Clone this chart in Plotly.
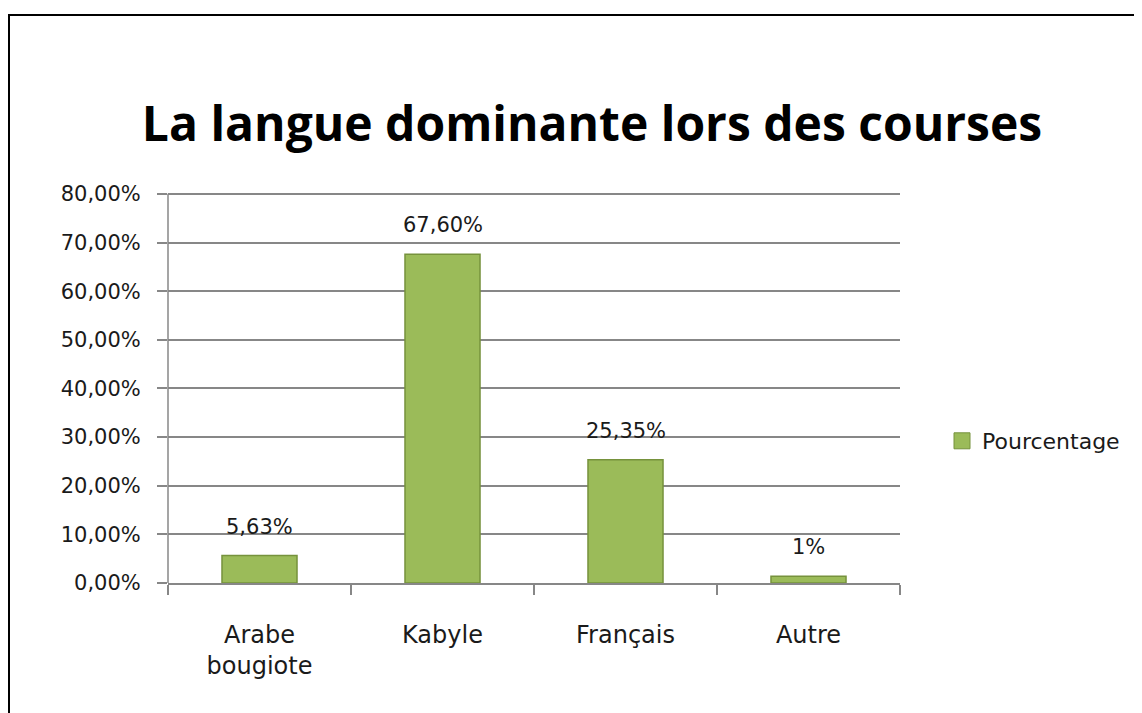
import plotly.graph_objects as go

categories = ["Arabe<br>bougiote", "Kabyle", "Français", "Autre"]
values = [5.63, 67.60, 25.35, 1.41]
value_labels = ["5,63%", "67,60%", "25,35%", "1%"]
y_ticks = [0, 10, 20, 30, 40, 50, 60, 70, 80]
y_ticktext = ["0,00%", "10,00%", "20,00%", "30,00%", "40,00%", "50,00%", "60,00%", "70,00%", "80,00%"]
series_name = "Pourcentage"

OFF = 8  # page body margin
YMAX = 81.0
px_per_unit = (583 - 194) / 80.0
W, H = 1142 - OFF, 713 - OFF
L = 168 - OFF
R = 1142 - 900
T = int(round(194 - (YMAX - 80) * px_per_unit)) - OFF
B = 713 - 583
pw, ph = W - L - R, H - T - B

BAR = "#9BBB59"
EDGE = "#76923C"
TXT = "#1a1a1a"
GRID = "#878787"

fig = go.Figure()
fig.add_trace(go.Bar(
    x=categories, y=values, name=series_name,
    marker=dict(color=BAR, line=dict(color=EDGE, width=1.5)),
    width=0.41, showlegend=False,
))
# legend entry with a larger square swatch
fig.add_trace(go.Scatter(
    x=[categories[0]], y=[None], name=series_name, mode="markers",
    marker=dict(symbol="square", size=16, color=BAR, line=dict(color=EDGE, width=1)),
    showlegend=True, hoverinfo="skip",
))

for c, v, t in zip(categories, values, value_labels):
    fig.add_annotation(x=c, y=v, text=t, showarrow=False, yanchor="bottom",
                       yshift=15, font=dict(family="DejaVu Sans", size=21, color=TXT))

# y axis line, stopping at the top tick
fig.add_shape(type="line", xref="paper", yref="y", x0=0, x1=0,
              y0=0, y1=y_ticks[-1], line=dict(color=GRID, width=1.5))

# outer border (extends past right/bottom edge as in the reference)
fig.add_shape(type="rect", xref="paper", yref="paper",
              x0=(9 - OFF - L) / pw, x1=(W + 20 - L) / pw,
              y0=-(B + 20) / ph, y1=(H - (15 - OFF) - B) / ph,
              line=dict(color="black", width=2), fillcolor="rgba(0,0,0,0)", layer="below")

fig.update_layout(
    width=W, height=H,
    margin=dict(l=L, r=R, t=T, b=B),
    paper_bgcolor="white", plot_bgcolor="white",
    title=dict(text="<b>La langue dominante lors des courses</b>",
               x=(592 - OFF) / W, xanchor="center", y=1 - (124 - OFF) / H, yanchor="middle",
               font=dict(family="Open Sans", size=48, color="black")),
    showlegend=True,
    legend=dict(x=(942 - OFF - L) / pw, xanchor="left", y=(583 - 441) / ph, yanchor="middle",
                font=dict(family="DejaVu Sans", size=22, color=TXT),
                itemwidth=30, bgcolor="rgba(0,0,0,0)"),
)
fig.update_yaxes(range=[0, YMAX], tickvals=y_ticks, ticktext=y_ticktext,
                 showgrid=True, gridcolor=GRID, gridwidth=1.5,
                 showline=False,
                 ticks="outside", ticklen=10, tickcolor=GRID, tickwidth=1.5,
                 ticklabelstandoff=12,
                 tickfont=dict(family="DejaVu Sans", size=21, color=TXT),
                 zeroline=False)
fig.update_xaxes(showline=True, linecolor=GRID, linewidth=1.5,
                 ticks="outside", ticklen=10, tickcolor=GRID, tickwidth=1.5,
                 tickson="boundaries", ticklabelstandoff=29,
                 tickfont=dict(family="DejaVu Sans", size=24, color=TXT))

fig.write_html("out.html")
